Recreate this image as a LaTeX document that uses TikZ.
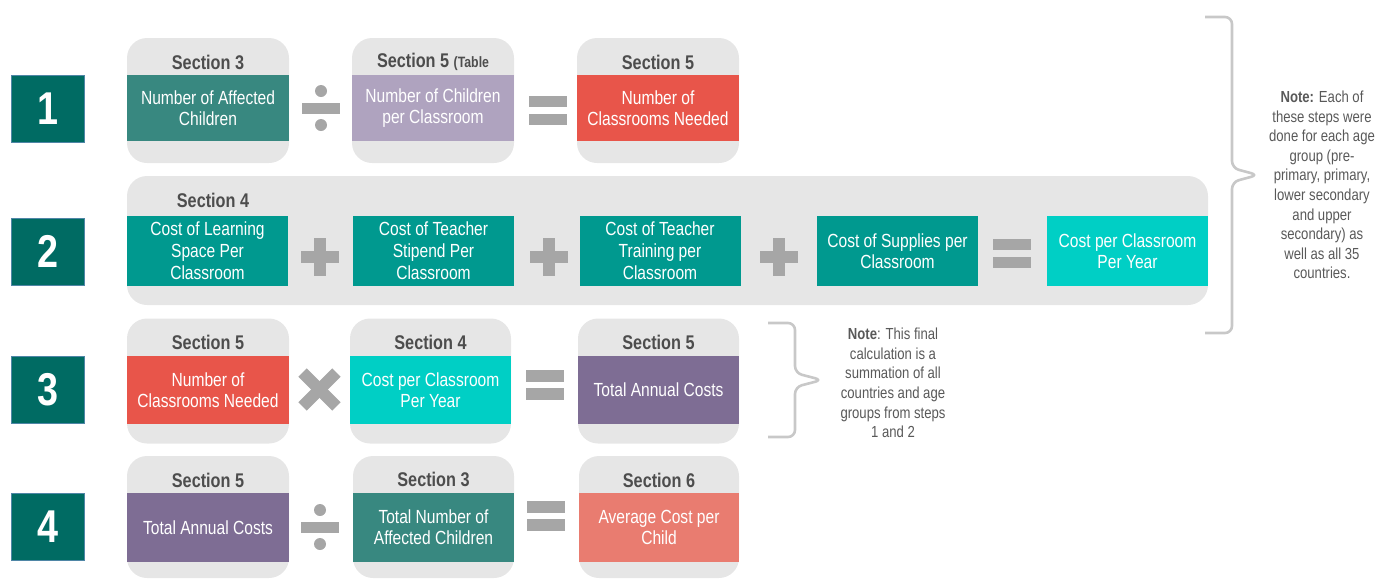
\documentclass[tikz,border=0pt]{standalone}
\usepackage{fontspec}
\setmainfont{Liberation Sans}[FakeStretch=0.82]
\definecolor{numteal}{HTML}{006B63}
\definecolor{numedge}{HTML}{4F86A6}
\definecolor{panelgray}{HTML}{E6E6E6}
\definecolor{opgray}{HTML}{A6A6A6}
\definecolor{bracegray}{HTML}{C8C8C8}
\definecolor{hdrtext}{HTML}{4D4D4D}
\definecolor{notetext}{HTML}{595959}
\definecolor{tealA}{HTML}{388880}
\definecolor{tealB}{HTML}{00998F}
\definecolor{cyanC}{HTML}{00CFC5}
\definecolor{lilac}{HTML}{AFA3BF}
\definecolor{redD}{HTML}{E8554A}
\definecolor{purpleE}{HTML}{7E6D94}
\definecolor{salmon}{HTML}{E97C70}
\newcommand{\bodyfont}{\fontsize{19}{21}\selectfont}
\newcommand{\hdrfont}{\fontsize{19.8}{21}\selectfont\bfseries}
\newcommand{\notefont}{\fontsize{16}{19.6}\selectfont}
\begin{document}
\begin{tikzpicture}[x=1pt,y=-1pt,
  numbox/.style={fill=numteal,draw=numedge,line width=0.8pt,minimum width=73pt,minimum height=67pt,
    inner sep=0pt,text=white,font=\fontsize{46}{46}\selectfont\bfseries},
  panel/.style={fill=panelgray,rounded corners=20pt,minimum width=162pt,minimum height=125pt,inner sep=0pt},
  band/.style={minimum width=162pt,minimum height=67pt,inner sep=0pt,text=white,font=\bodyfont,align=center},
  hdr/.style={text=hdrtext,font=\hdrfont,inner sep=0pt},
  note/.style={text=notetext,font=\notefont,align=center,inner sep=0pt},
  opfill/.style={fill=opgray},
  brace/.style={draw=bracegray,line width=2.6pt,rounded corners=7pt}]
\useasboundingbox (0,0) rectangle (1385,579);

% step numbers
\node[numbox] (n1) at (47.5,108.5) {1};
\node[numbox] (n2) at (47.5,251.5) {2};
\node[numbox] (n3) at (47.5,390) {3};
\node[numbox] (n4) at (47.5,526.5) {4};

% ---- step 1 ----
\node[panel] (p11) at (208,100.5) {};
\node[panel] (p12) at (433,100.5) {};
\node[panel] (p13) at (658,100.5) {};
\node[hdr] (h11) at (208,62) {Section 3};
\node[hdr] (h12) at (433,62) {Section 5 {\fontsize{15}{16}\selectfont(Table}};
\node[hdr] (h13) at (658,62) {Section 5};
\node[band,fill=tealA,minimum height=66pt] (b11) at (208,108) {Number of Affected\\Children};
\node[band,fill=lilac,minimum height=66pt] (b12) at (433,108) {Number of Children\\per Classroom};
\node[band,fill=redD,minimum height=66pt] (b13) at (658,108) {Number of\\Classrooms Needed};
% divide
\fill[opfill] (302,102.5) rectangle (340,113.5);
\fill[opfill] (321,91) circle (6);
\fill[opfill] (321,125) circle (6);
% equals
\fill[opfill] (529,96) rectangle (567,107);
\fill[opfill] (529,114) rectangle (567,125);

% ---- step 2 ----
\node[panel,minimum width=1081pt,minimum height=129pt] (p2) at (667.5,240.5) {};
\node[hdr] (h2) at (213,200) {Section 4};
\node[band,fill=tealB,minimum width=161pt,minimum height=70pt,font=\fontsize{19}{22}\selectfont] (b21) at (207.5,251) {Cost of Learning\\Space Per\\Classroom};
\node[band,fill=tealB,minimum width=161pt,minimum height=70pt,font=\fontsize{19}{22}\selectfont] (b22) at (433.5,251) {Cost of Teacher\\Stipend Per\\Classroom};
\node[band,fill=tealB,minimum width=161pt,minimum height=70pt,font=\fontsize{19}{22}\selectfont] (b23) at (660,251) {Cost of Teacher\\Training per\\Classroom};
\node[band,fill=tealB,minimum width=161pt,minimum height=70pt] (b24) at (897.5,251) {Cost of Supplies per\\Classroom};
\node[band,fill=cyanC,minimum width=161pt,minimum height=70pt] (b25) at (1127.5,251) {Cost per Classroom\\Per Year};
% plus signs
\foreach \cx in {320,549,779}{
  \fill[opfill] (\cx-19,251) rectangle (\cx+19,263);
  \fill[opfill] (\cx-6,238) rectangle (\cx+6,276);
}
% equals
\fill[opfill] (993,239) rectangle (1031,250);
\fill[opfill] (993,257) rectangle (1031,268);

% ---- step 3 ----
\node[panel] (p31) at (208,381) {};
\node[panel,minimum width=161pt] (p32) at (430.5,381) {};
\node[panel,minimum width=161pt] (p33) at (658.5,381) {};
\node[hdr] (h31) at (208,342) {Section 5};
\node[hdr] (h32) at (430.5,342) {Section 4};
\node[hdr] (h33) at (658.5,342) {Section 5};
\node[band,fill=redD,minimum height=68pt] (b31) at (208,390) {Number of\\Classrooms Needed};
\node[band,fill=cyanC,minimum width=161pt,minimum height=68pt] (b32) at (430.5,390) {Cost per Classroom\\Per Year};
\node[band,fill=purpleE,minimum width=161pt,minimum height=68pt] (b33) at (658.5,390) {Total Annual Costs};
% times
\fill[opfill,rotate around={45:(319.5,389.5)}] (295.5,383.5) rectangle (343.5,395.5);
\fill[opfill,rotate around={45:(319.5,389.5)}] (313.5,365.5) rectangle (325.5,413.5);
% equals
\fill[opfill] (526,370) rectangle (564,382);
\fill[opfill] (526,388) rectangle (564,400);

% ---- step 4 ----
\node[panel,minimum height=122pt] (p41) at (208,517) {};
\node[panel,minimum width=161pt,minimum height=122pt] (p42) at (433.5,517) {};
\node[panel,minimum width=160pt,minimum height=122pt] (p43) at (659,517) {};
\node[hdr] (h41) at (208,480) {Section 5};
\node[hdr] (h42) at (433.5,479) {Section 3};
\node[hdr] (h43) at (659,480) {Section 6};
\node[band,fill=purpleE,minimum height=69pt] (b41) at (208,527.5) {Total Annual Costs};
\node[band,fill=tealA,minimum width=161pt,minimum height=69pt] (b42) at (433.5,527.5) {Total Number of\\Affected Children};
\node[band,fill=salmon,minimum width=160pt,minimum height=69pt] (b43) at (659,527.5) {Average Cost per\\Child};
% divide
\fill[opfill] (301,521.5) rectangle (339,532.5);
\fill[opfill] (320,510) circle (6);
\fill[opfill] (320,544) circle (6);
% equals
\fill[opfill] (527,501) rectangle (565,513);
\fill[opfill] (527,519) rectangle (565,531);

% ---- notes and braces ----
\draw[brace] (768,323) -- (795,323) -- (795,373) -- (822,380) -- (795,387) -- (795,437) -- (768,437);
\node[note] (note3) at (893,383) {\textbf{Note}: This final\\calculation is a\\summation of all\\countries and age\\groups from steps\\1 and 2};

\draw[brace] (1205,17) -- (1232,17) -- (1232,168) -- (1258,175) -- (1232,182) -- (1232,333) -- (1205,333);
\node[note] (noteall) at (1322,185) {\textbf{Note:} Each of\\these steps were\\done for each age\\group (pre-\\primary, primary,\\lower secondary\\and upper\\secondary) as\\well as all 35\\countries.};
\end{tikzpicture}
\end{document}
